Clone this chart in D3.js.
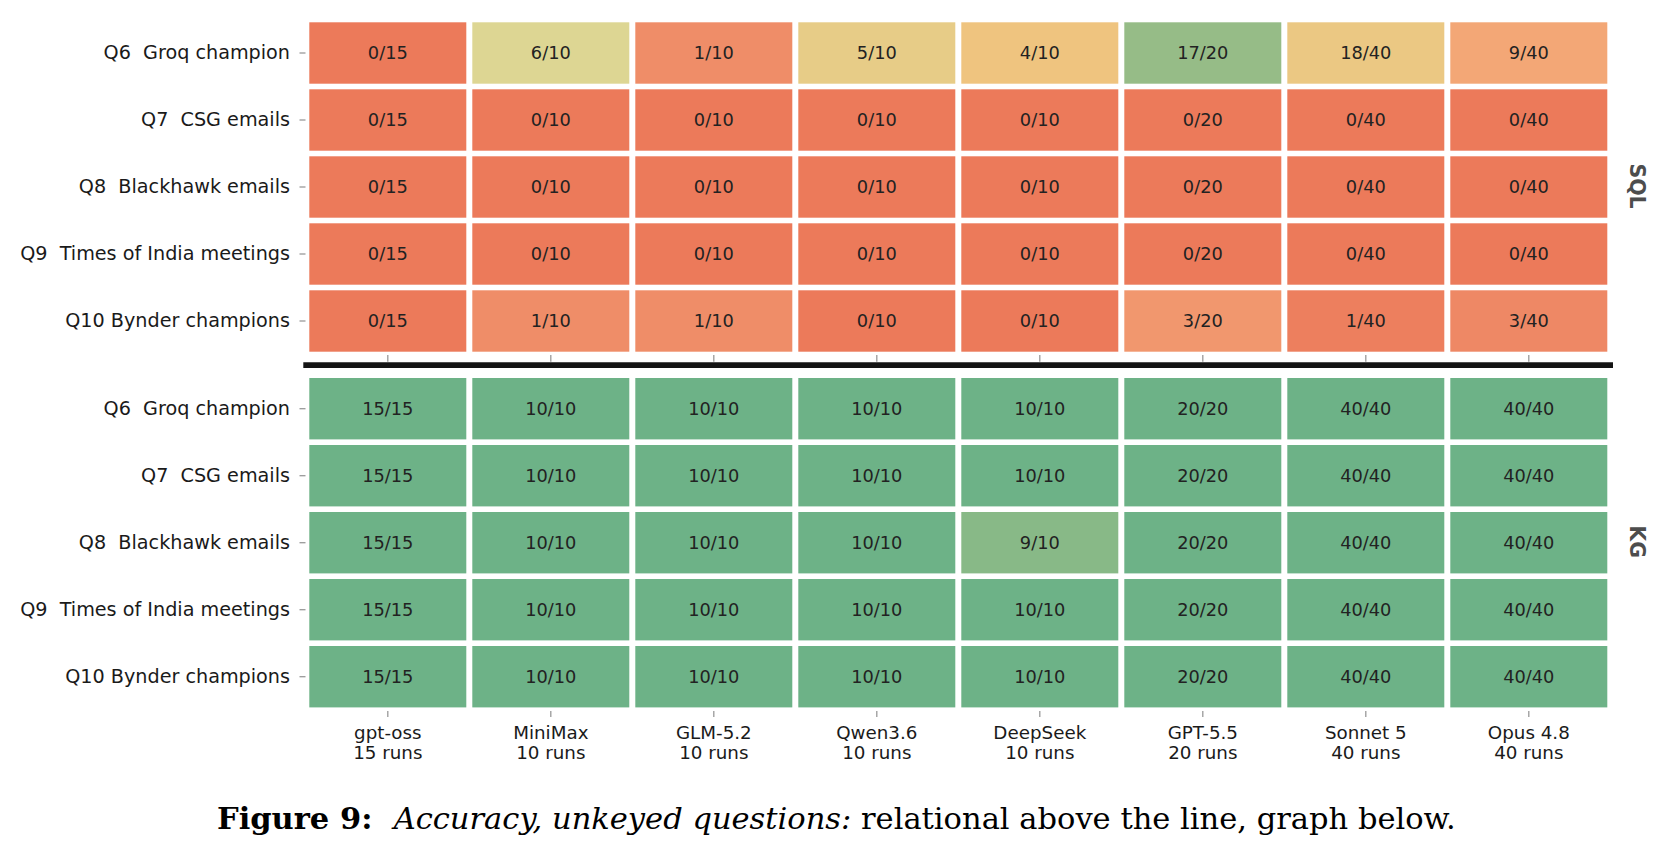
<!DOCTYPE html>
<html>
<head>
<meta charset="utf-8">
<script src="https://cdn.jsdelivr.net/npm/d3@7"></script>
<style>
  body { margin: 0; background: #fff; }
  svg { display: block; }
  .axis path.domain { display: none; }
  .axis line { stroke: #999; stroke-width: 1.3; }
  .axis text { font-family: "DejaVu Sans", sans-serif; fill: #1a1a1a; white-space: pre; }
  .y-axis text { font-size: 19.2px; }
  .x-axis text { font-size: 18.3px; }
</style>
</head>
<body>
<div id="chart"></div>
<script>
// models on the x axis and how many runs each got
var models = ['gpt-oss', 'MiniMax', 'GLM-5.2', 'Qwen3.6', 'DeepSeek', 'GPT-5.5', 'Sonnet 5', 'Opus 4.8']
var runs = [15, 10, 10, 10, 10, 20, 40, 40]

var questions = [
  'Q6  Groq champion',
  'Q7  CSG emails',
  'Q8  Blackhawk emails',
  'Q9  Times of India meetings',
  'Q10 Bynder champions'
]

// correct answers per question (rows) and model (cols)
var sqlCorrect = [
  [0, 6, 1, 5, 4, 17, 18, 9],
  [0, 0, 0, 0, 0, 0, 0, 0],
  [0, 0, 0, 0, 0, 0, 0, 0],
  [0, 0, 0, 0, 0, 0, 0, 0],
  [0, 1, 1, 0, 0, 3, 1, 3]
]
var kgCorrect = [
  [15, 10, 10, 10, 10, 20, 40, 40],
  [15, 10, 10, 10, 10, 20, 40, 40],
  [15, 10, 10, 10, 9, 20, 40, 40],
  [15, 10, 10, 10, 10, 20, 40, 40],
  [15, 10, 10, 10, 10, 20, 40, 40]
]

var panels = ['SQL', 'KG']

var width = 1668, height = 852

var svg = d3.select('#chart')
  .append('svg')
  .attr('width', width)
  .attr('height', height)

svg.append('rect').attr('width', width).attr('height', height).attr('fill', '#fff')

// colour ramp, red (0) -> yellow -> green (1)
var color = d3.scaleLinear()
  .domain([0, 0.1, 0.225, 0.4, 0.5, 0.6, 0.85, 1])
  .range(['#ec7a5a', '#ef8d68', '#f3a776', '#efc47f', '#e7cc87', '#ddd693', '#96bc87', '#6db287'])
  .interpolate(d3.interpolateRgb)
  .clamp(true)

var x_scale = d3.scaleBand()
  .domain(models)
  .range([306.3, 1610.3])

var panelTops = [19.5, 375.2]
var rowPitch = 67

function drawPanel(name, matrix, top) {
  var y_scale = d3.scaleBand()
    .domain(questions)
    .range([top, top + rowPitch * questions.length])

  var cells = []
  matrix.forEach(function(row, i) {
    row.forEach(function(v, j) {
      cells.push({ q: questions[i], m: models[j], v: v, n: runs[j] })
    })
  })

  var g = svg.append('g').attr('class', 'panel-' + name)

  g.selectAll('rect')
    .data(cells)
    .enter()
    .append('rect')
    .attr('x', function(d) { return x_scale(d.m) + 3 })
    .attr('y', function(d) { return y_scale(d.q) + 2.8 })
    .attr('width', x_scale.bandwidth() - 6)
    .attr('height', y_scale.bandwidth() - 5.6)
    .attr('fill', function(d) { return color(d.v / d.n) })

  g.selectAll('text.cell')
    .data(cells)
    .enter()
    .append('text')
    .attr('class', 'cell')
    .attr('x', function(d) { return x_scale(d.m) + x_scale.bandwidth() / 2 })
    .attr('y', function(d) { return y_scale(d.q) + y_scale.bandwidth() / 2 })
    .attr('dy', '0.35em')
    .attr('text-anchor', 'middle')
    .style('font-family', '"DejaVu Sans", sans-serif')
    .style('font-size', '17.8px')
    .attr('fill', '#222')
    .text(function(d) { return d.v + '/' + d.n })

  var y_axis = d3.axisLeft(y_scale).tickSize(6).tickPadding(9.5)
  svg.append('g')
    .attr('class', 'axis y-axis')
    .attr('transform', 'translate(305.5,0)')
    .call(y_axis)

  // panel name on the right
  var yMid = top + rowPitch * questions.length / 2 - 1
  svg.append('text')
    .attr('transform', 'translate(1630,' + yMid + ') rotate(90)')
    .attr('text-anchor', 'middle')
    .style('font-family', '"DejaVu Sans", sans-serif')
    .style('font-size', '20.5px')
    .style('font-weight', 'bold')
    .attr('fill', '#4d4d4d')
    .text(name)

  return y_scale
}

drawPanel(panels[0], sqlCorrect, panelTops[0])
drawPanel(panels[1], kgCorrect, panelTops[1])

// SQL panel: ticks only, no labels
svg.append('g')
  .attr('class', 'axis x-axis')
  .attr('transform', 'translate(0,355)')
  .call(d3.axisBottom(x_scale).tickSize(6.7).tickFormat(''))

// KG panel: model + run count
var xg = svg.append('g')
  .attr('class', 'axis x-axis')
  .attr('transform', 'translate(0,711)')
  .call(d3.axisBottom(x_scale).tickSize(6))

xg.selectAll('.tick text').each(function(d, i) {
  var t = d3.select(this)
  t.text(null).attr('y', 0).attr('dy', null)
  t.append('tspan').attr('x', 0).attr('y', 28).text(d)
  t.append('tspan').attr('x', 0).attr('y', 48).text(runs[i] + ' runs')
})

// the dividing line
svg.append('line')
  .attr('x1', 303.3)
  .attr('x2', 1613)
  .attr('y1', 365.2)
  .attr('y2', 365.2)
  .attr('stroke', '#141414')
  .attr('stroke-width', 5.7)

// caption
var cap = svg.append('text')
  .attr('x', 217)
  .attr('y', 829)
  .style('font-family', '"DejaVu Serif", "Liberation Serif", serif')
  .style('font-size', '26px')
  .attr('fill', '#000')
  .style('white-space', 'pre')

cap.append('tspan').style('font-weight', 'bold').text('Figure 9:  ')
cap.append('tspan').style('font-style', 'italic').text('Accuracy, unkeyed questions:')
cap.append('tspan').text(' relational above the line, graph below.')

// scale the caption so it spans the same width as in the paper
var capW = cap.node().getBBox().width
cap.style('font-size', (26 * 1239 / capW) + 'px')
</script>
</body>
</html>
